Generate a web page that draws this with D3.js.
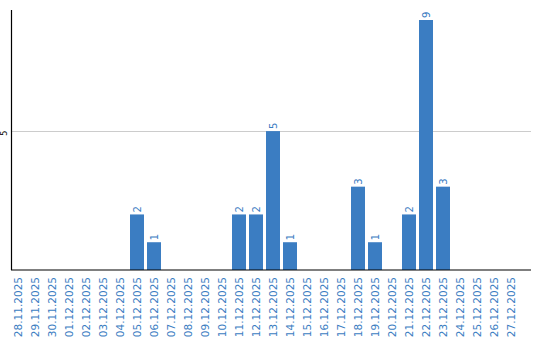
<!DOCTYPE html>
<html>
<head>
<meta charset="utf-8">
<script src="https://cdn.jsdelivr.net/npm/d3@7"></script>
<style>
  body { margin: 0; background: #fff; }
  svg { display: block; }
  svg text { font-family: "DejaVu Sans", Verdana, sans-serif; }
</style>
</head>
<body>
<div id="chart"></div>
<script>
// days shown on the x axis
var dates = [
  "28.11.2025", "29.11.2025", "30.11.2025", "01.12.2025", "02.12.2025",
  "03.12.2025", "04.12.2025", "05.12.2025", "06.12.2025", "07.12.2025",
  "08.12.2025", "09.12.2025", "10.12.2025", "11.12.2025", "12.12.2025",
  "13.12.2025", "14.12.2025", "15.12.2025", "16.12.2025", "17.12.2025",
  "18.12.2025", "19.12.2025", "20.12.2025", "21.12.2025", "22.12.2025",
  "23.12.2025", "24.12.2025", "25.12.2025", "26.12.2025", "27.12.2025"
];
// count per day
var counts = [
  0, 0, 0, 0, 0,
  0, 0, 2, 1, 0,
  0, 0, 0, 2, 2,
  5, 1, 0, 0, 0,
  3, 1, 0, 2, 9,
  3, 0, 0, 0, 0
];
var yTicks = [5];

(function () {
  var width = 540, height = 340;
  var plotLeft = 11, plotRight = 531, plotTop = 10, plotBottom = 270;
  var blue = "#3b7dc2";

  var data = dates.map(function (d, i) { return { date: d, value: counts[i] }; });
  var nonZero = data.filter(function (d) { return d.value > 0; });

  var svg = d3.select("#chart").append("svg")
    .attr("width", width)
    .attr("height", height);

  var x = d3.scaleBand()
    .domain(dates)
    .range([plotLeft, 518])
    .paddingInner(3 / 17)
    .paddingOuter(0);

  var y = d3.scaleLinear()
    .domain([0, 9.36])
    .range([plotBottom, plotTop]);

  // gridlines
  svg.selectAll("line.grid")
    .data(yTicks)
    .enter().append("line")
    .attr("class", "grid")
    .attr("x1", plotLeft).attr("x2", plotRight)
    .attr("y1", function (d) { return Math.round(y(d)) + 0.5; })
    .attr("y2", function (d) { return Math.round(y(d)) + 0.5; })
    .attr("stroke", "#cccccc")
    .attr("stroke-width", 1);

  // y tick labels, rotated
  svg.selectAll("text.ytick")
    .data(yTicks)
    .enter().append("text")
    .attr("class", "ytick")
    .attr("transform", function (d) { return "translate(7," + (y(d) + 2) + ") rotate(-90)"; })
    .attr("text-anchor", "middle")
    .attr("font-size", "8px")
    .attr("fill", "#000")
    .text(function (d) { return d; });

  // bars
  svg.selectAll("rect.bar")
    .data(nonZero)
    .enter().append("rect")
    .attr("class", "bar")
    .attr("x", function (d) { return x(d.date); })
    .attr("y", function (d) { return y(d.value); })
    .attr("width", x.bandwidth())
    .attr("height", function (d) { return y(0) - y(d.value); })
    .attr("fill", blue);

  // value labels above bars
  svg.selectAll("text.val")
    .data(nonZero)
    .enter().append("text")
    .attr("class", "val")
    .attr("transform", function (d) {
      return "translate(" + (x(d.date) + x.bandwidth() / 2) + "," + (y(d.value) - 2) + ") rotate(-90)";
    })
    .attr("dy", "0.35em")
    .attr("text-anchor", "start")
    .attr("font-size", "10px")
    .attr("fill", blue)
    .text(function (d) { return d.value; });

  // axis lines
  svg.append("line")
    .attr("x1", plotLeft + 0.5).attr("x2", plotLeft + 0.5)
    .attr("y1", plotTop).attr("y2", plotBottom)
    .attr("stroke", "#000").attr("stroke-width", 1.2);
  svg.append("line")
    .attr("x1", plotLeft).attr("x2", plotRight)
    .attr("y1", plotBottom).attr("y2", plotBottom)
    .attr("stroke", "#000").attr("stroke-width", 1.2);

  // x labels, rotated
  svg.selectAll("text.xlab")
    .data(dates)
    .enter().append("text")
    .attr("class", "xlab")
    .attr("transform", function (d) {
      return "translate(" + (x(d) + x.bandwidth() / 2) + ",277) rotate(-90)";
    })
    .attr("dy", "0.35em")
    .attr("text-anchor", "end")
    .attr("font-size", "10.5px")
    .attr("fill", blue)
    .text(function (d) { return d; });
})();
</script>
</body>
</html>
